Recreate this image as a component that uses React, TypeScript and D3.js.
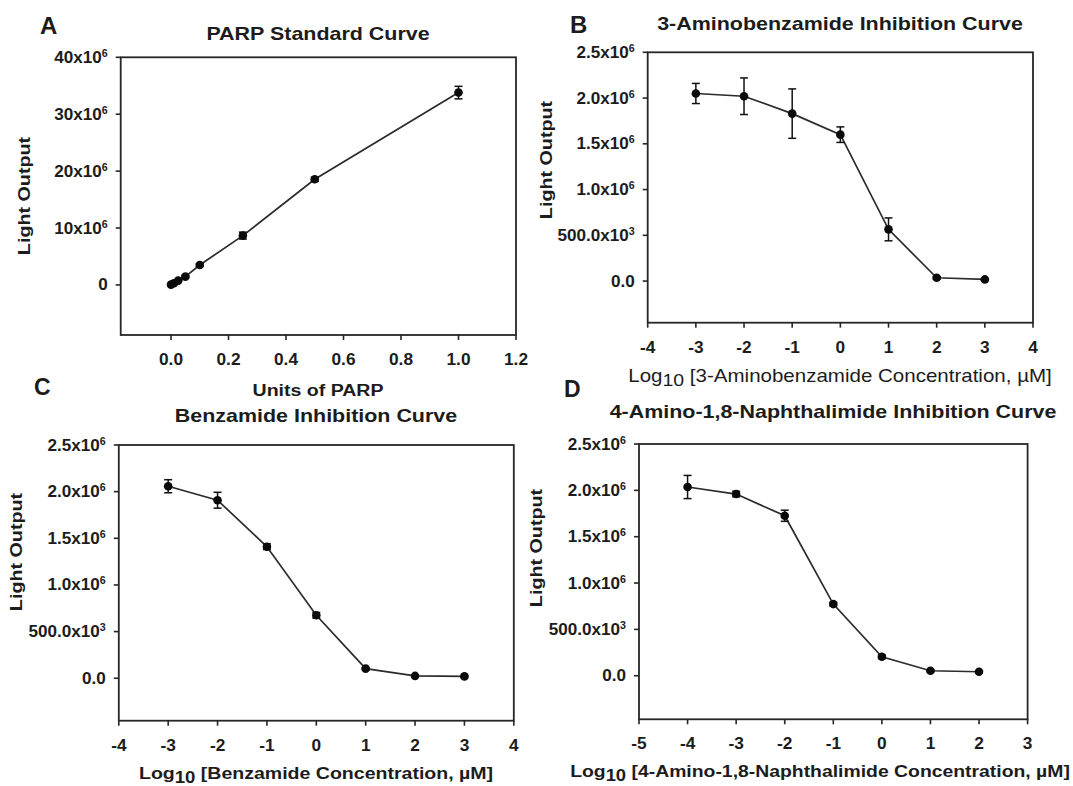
import React from 'react';
import * as d3 from 'd3';

const FONT = '"Liberation Sans", Arial, Helvetica, sans-serif';
const INK = '#1c1c1c';

// Panel A: PARP standard curve
const aUnits = [0, 0.01, 0.025, 0.05, 0.1, 0.25, 0.5, 1.0];
const aLight = [0.05e6, 0.3e6, 0.76e6, 1.46e6, 3.5e6, 8.67e6, 18.57e6, 33.8e6];
const aErr = [0.1e6, 0.1e6, 0.15e6, 0.2e6, 0.25e6, 0.6e6, 0.35e6, 1.1e6];
const aXTicks = [0, 0.2, 0.4, 0.6, 0.8, 1.0, 1.2];
const aYTicks = [0, 10e6, 20e6, 30e6, 40e6];
const aYLabels = [['0', ''], ['10x10', '6'], ['20x10', '6'], ['30x10', '6'], ['40x10', '6']];

// Panel B: 3-aminobenzamide
const bLogConc = [-3, -2, -1, 0, 1, 2, 3];
const bLight = [2.05e6, 2.02e6, 1.83e6, 1.6e6, 0.565e6, 0.036e6, 0.018e6];
const bErr = [0.11e6, 0.2e6, 0.27e6, 0.085e6, 0.125e6, 0.015e6, 0.01e6];

// Panel C: benzamide
const cLogConc = [-3, -2, -1, 0, 1, 2, 3];
const cLight = [2.058e6, 1.908e6, 1.41e6, 0.675e6, 0.103e6, 0.025e6, 0.02e6];
const cErr = [0.07e6, 0.085e6, 0.03e6, 0.03e6, 0.01e6, 0.01e6, 0.01e6];

// Panel D: 4-amino-1,8-naphthalimide
const dLogConc = [-4, -3, -2, -1, 0, 1, 2];
const dLight = [2.036e6, 1.96e6, 1.726e6, 0.773e6, 0.205e6, 0.054e6, 0.043e6];
const dErr = [0.125e6, 0.03e6, 0.06e6, 0.02e6, 0.02e6, 0.01e6, 0.01e6];

const logTicks = [-4, -3, -2, -1, 0, 1, 2, 3, 4];
const dLogTicks = [-5, -4, -3, -2, -1, 0, 1, 2, 3];
const inhYTicks = [0, 0.5e6, 1.0e6, 1.5e6, 2.0e6, 2.5e6];
const inhYLabels = [['0.0', ''], ['500.0x10', '3'], ['1.0x10', '6'], ['1.5x10', '6'], ['2.0x10', '6'], ['2.5x10', '6']];

type TxtProps = {
  x: number; y: number; size: number; weight?: string; anchor?: string;
  sx?: number; rotate?: number; children: React.ReactNode;
};

function Txt({ x, y, size, weight = 'bold', anchor = 'middle', sx = 1, rotate = 0, children }: TxtProps) {
  return (
    <text
      transform={`translate(${x},${y}) rotate(${rotate}) scale(${sx},1)`}
      fontSize={size}
      fontWeight={weight}
      textAnchor={anchor}
      fontFamily={FONT}
      fill={INK}
    >
      {children}
    </text>
  );
}

function LogLabel({ name }: { name: string }) {
  return (
    <>
      <tspan>Log</tspan>
      <tspan fontSize="0.95em" dy={4}>10</tspan>
      <tspan dy={-4}>{` [${name} Concentration, \u00b5M]`}</tspan>
    </>
  );
}

type PanelProps = {
  frame: [number, number, number, number];
  xDomain: [number, number];
  yDomain: [number, number];
  xTicks: number[];
  xFmt: (v: number) => string;
  yTicks: number[];
  yLabels: string[][];
  xs: number[];
  ys: number[];
  errs: number[];
};

function Panel({ frame, xDomain, yDomain, xTicks, xFmt, yTicks, yLabels, xs, ys, errs }: PanelProps) {
  const [x0, x1, y0, y1] = frame;
  const x = d3.scaleLinear(xDomain, [x0, x1]);
  const y = d3.scaleLinear(yDomain, [y1, y0]);
  const line = d3.line<number>()
    .x((_, i) => x(xs[i]))
    .y(d => y(d));
  const tick = 5;

  return (
    <g>
      <rect x={x0} y={y0} width={x1 - x0} height={y1 - y0} fill="none" stroke="#262626" strokeWidth={1.8} />
      {xTicks.map(t => (
        <g key={'x' + t}>
          <line x1={x(t)} x2={x(t)} y1={y1} y2={y1 + tick} stroke="#262626" strokeWidth={1.6} />
          <Txt x={x(t)} y={y1 + 30} size={16} sx={1.08}>{xFmt(t)}</Txt>
        </g>
      ))}
      {yTicks.map((t, i) => (
        <g key={'y' + t}>
          <line x1={x0 - tick} x2={x0} y1={y(t)} y2={y(t)} stroke="#262626" strokeWidth={1.6} />
          <Txt x={x0 - 13} y={y(t) + 5.5} size={16} sx={1.07} anchor="end">
            <tspan>{yLabels[i][0]}</tspan>
            {yLabels[i][1] && <tspan fontSize={10} dy={-6}>{yLabels[i][1]}</tspan>}
          </Txt>
        </g>
      ))}
      <path d={line(ys) || ''} fill="none" stroke="#2b2b2b" strokeWidth={1.7} />
      {xs.map((v, i) => (
        <g key={'e' + i} stroke="#111" strokeWidth={1.5}>
          <line x1={x(v)} x2={x(v)} y1={y(ys[i] - errs[i])} y2={y(ys[i] + errs[i])} />
          <line x1={x(v) - 4} x2={x(v) + 4} y1={y(ys[i] - errs[i])} y2={y(ys[i] - errs[i])} />
          <line x1={x(v) - 4} x2={x(v) + 4} y1={y(ys[i] + errs[i])} y2={y(ys[i] + errs[i])} />
        </g>
      ))}
      {xs.map((v, i) => (
        <circle key={'p' + i} cx={x(v)} cy={y(ys[i])} r={4.3} fill="#0a0a0a" />
      ))}
    </g>
  );
}

export default function App() {
  const logFmt = (v: number) => String(v);
  const unitFmt = (v: number) => v.toFixed(1);

  return (
    <svg width={1073} height={786} style={{ position: 'absolute', left: 0, top: 0, background: '#fff' }}>
      {/* A */}
      <Txt x={40} y={34} size={24} anchor="start">A</Txt>
      <Txt x={318} y={40} size={18.5} sx={1.16}>PARP Standard Curve</Txt>
      <Panel
        frame={[120.7, 516, 57.3, 335]}
        xDomain={[-0.175, 1.2]}
        yDomain={[-8.8e6, 40e6]}
        xTicks={aXTicks}
        xFmt={unitFmt}
        yTicks={aYTicks}
        yLabels={aYLabels}
        xs={aUnits}
        ys={aLight}
        errs={aErr}
      />
      <Txt x={30} y={196} size={17} sx={1.16} rotate={-90}>Light Output</Txt>
      <Txt x={318} y={396} size={17} sx={1.15}>Units of PARP</Txt>

      {/* B */}
      <Txt x={570} y={33} size={24} anchor="start">B</Txt>
      <Txt x={840} y={30} size={18.5} sx={1.16}>3-Aminobenzamide Inhibition Curve</Txt>
      <Panel
        frame={[647.7, 1033, 52.3, 322.7]}
        xDomain={[-4, 4]}
        yDomain={[-0.455e6, 2.5e6]}
        xTicks={logTicks}
        xFmt={logFmt}
        yTicks={inhYTicks}
        yLabels={inhYLabels}
        xs={bLogConc}
        ys={bLight}
        errs={bErr}
      />
      <Txt x={552} y={160} size={17} sx={1.16} rotate={-90}>Light Output</Txt>
      <Txt x={840} y={382} size={18} sx={1.14} weight="normal">
        <LogLabel name="3-Aminobenzamide" />
      </Txt>

      {/* C */}
      <Txt x={34} y={395} size={23} anchor="start">C</Txt>
      <Txt x={316} y={422} size={18.5} sx={1.16}>Benzamide Inhibition Curve</Txt>
      <Panel
        frame={[118.8, 513.8, 445, 720.7]}
        xDomain={[-4, 4]}
        yDomain={[-0.455e6, 2.5e6]}
        xTicks={logTicks}
        xFmt={logFmt}
        yTicks={inhYTicks}
        yLabels={inhYLabels}
        xs={cLogConc}
        ys={cLight}
        errs={cErr}
      />
      <Txt x={22} y={552} size={17} sx={1.16} rotate={-90}>Light Output</Txt>
      <Txt x={316} y={779} size={17} sx={1.15}>
        <LogLabel name="Benzamide" />
      </Txt>

      {/* D */}
      <Txt x={564} y={397} size={23} anchor="start">D</Txt>
      <Txt x={833} y={418} size={18.5} sx={1.16}>4-Amino-1,8-Naphthalimide Inhibition Curve</Txt>
      <Panel
        frame={[639, 1027.6, 444, 719.3]}
        xDomain={[-5, 3]}
        yDomain={[-0.47e6, 2.5e6]}
        xTicks={dLogTicks}
        xFmt={logFmt}
        yTicks={inhYTicks}
        yLabels={inhYLabels}
        xs={dLogConc}
        ys={dLight}
        errs={dErr}
      />
      <Txt x={542} y={548} size={17} sx={1.16} rotate={-90}>Light Output</Txt>
      <Txt x={820} y={777} size={17} sx={1.14}>
        <LogLabel name="4-Amino-1,8-Naphthalimide" />
      </Txt>
    </svg>
  );
}
